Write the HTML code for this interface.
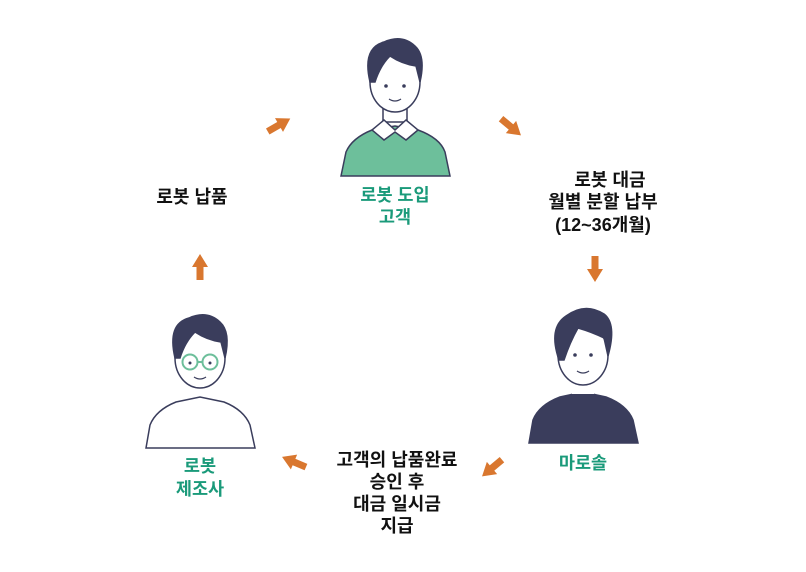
<!DOCTYPE html>
<html><head><meta charset="utf-8"><style>
body{margin:0;background:#fff;width:806px;height:567px;overflow:hidden;font-family:"Liberation Sans","Noto Sans CJK KR",sans-serif}
</style></head><body>
<svg width="806" height="567" viewBox="0 0 806 567" xmlns="http://www.w3.org/2000/svg">
<defs>
<g id="arr"><rect x="-13" y="-3.5" width="15" height="7" fill="#d9772f"/><polygon points="0,-8 13,0 0,8" fill="#d9772f"/></g>
</defs>
<use href="#arr" transform="translate(279,125) rotate(-30)"/>
<use href="#arr" transform="translate(511,127) rotate(40)"/>
<use href="#arr" transform="translate(595,269) rotate(90)"/>
<use href="#arr" transform="translate(492,468) rotate(140)"/>
<use href="#arr" transform="translate(294,462) rotate(203)"/>
<use href="#arr" transform="translate(200,267) rotate(-90)"/>

<!-- top person -->
<g stroke="#3a3d5c" stroke-width="1.5">
<path d="M341,176 L346,152 Q352,138 372,130 L395,126 L418,130 Q440,138 445,152 L450,176 Z" fill="#6dbf9b"/>
<path d="M383,104 L383,122 L407,122 L407,104 Z" fill="#fff"/>
<ellipse cx="395" cy="82" rx="25" ry="30" fill="#fff"/>
<path d="M372,130 L384,120 L395,130 L406,120 L418,130 L406,140 L395,132 L384,140 Z" fill="#fff"/>
<path d="M370,82 Q362,48 384,42 Q402,34 415,46 Q426,56 420,82 L416,66 Q402,64 390,56 Q380,66 375,82 Z" fill="#3a3d5c"/>
</g>
<circle cx="386" cy="86" r="1.8" fill="#3a3d5c"/><circle cx="404" cy="86" r="1.8" fill="#3a3d5c"/>
<path d="M389,99 Q395,103 401,99" stroke="#3a3d5c" stroke-width="1.3" fill="none"/>

<!-- left person -->
<g stroke="#3a3d5c" stroke-width="1.5">
<path d="M146,448 L150,425 Q156,410 176,402 L200,397 L224,402 Q244,410 250,425 L255,448 Z" fill="#fff"/>
<ellipse cx="200" cy="358" rx="25" ry="30" fill="#fff"/>
<path d="M175,358 Q167,324 189,318 Q207,310 220,322 Q231,332 225,358 L221,342 Q207,340 195,332 Q185,342 180,358 Z" fill="#3a3d5c"/>
</g>
<g stroke="#6dbf9b" stroke-width="2" fill="none"><circle cx="190" cy="362" r="7.5"/><circle cx="210" cy="362" r="7.5"/><path d="M197,362 L203,362"/></g>
<circle cx="190" cy="363" r="1.5" fill="#3a3d5c"/><circle cx="210" cy="363" r="1.5" fill="#3a3d5c"/>
<path d="M194,377 Q200,381 206,377" stroke="#3a3d5c" stroke-width="1.3" fill="none"/>

<!-- right person -->
<g stroke="#3a3d5c" stroke-width="1.5">
<path d="M529,443 L533,420 Q539,405 560,397 L583,392 L606,397 Q627,405 633,420 L638,443 Z" fill="#3a3d5c"/>
<rect x="572" y="378" width="22" height="16" fill="#fff" stroke="none"/>
<ellipse cx="583" cy="355" rx="25" ry="30" fill="#fff"/>
<path d="M559,360 Q548,328 566,316 Q585,302 604,314 Q617,324 608,356 L604,338 Q592,332 578,328 Q570,342 564,360 Z" fill="#3a3d5c"/>
</g>
<circle cx="575" cy="355" r="1.8" fill="#3a3d5c"/><circle cx="591" cy="355" r="1.8" fill="#3a3d5c"/>
<path d="M577,371 Q583,375 589,371" stroke="#3a3d5c" stroke-width="1.3" fill="none"/>

<g font-family="Liberation Sans, Noto Sans CJK KR, sans-serif" font-weight="bold" font-size="18" text-anchor="middle">
<text x="192" y="203" fill="#111">로봇 납품</text>
<g fill="#1a9a7a" font-size="17.5">
<text x="395" y="201">로봇 도입</text><text x="395" y="223">고객</text>
<text x="200" y="472">로봇</text><text x="200" y="495">제조사</text>
<text x="583" y="469">마로솔</text>
</g>
<g fill="#111">
<text x="610" y="186">로봇 대금</text><text x="603" y="208">월별 분할 납부</text><text x="603" y="231">(12~36개월)</text>
<text x="397" y="466">고객의 납품완료</text><text x="397" y="488">승인 후</text><text x="397" y="510">대금 일시금</text><text x="397" y="532">지급</text>
</g>
</g>
</svg>
</body></html>
